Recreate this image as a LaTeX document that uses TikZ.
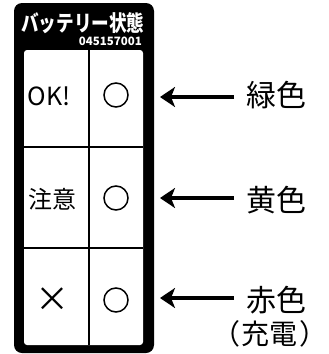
\documentclass[tikz,border=0pt]{standalone}
\usepackage{fontspec}
\setmainfont{Noto Sans CJK JP}
\usetikzlibrary{arrows.meta}
\begin{document}
\begin{tikzpicture}[x=1pt,y=-1pt,
  cell/.style={inner sep=0pt,font=\fontsize{24}{24}\selectfont},
  lamp/.style={circle,draw,line width=1.5pt,minimum size=24pt,inner sep=0pt},
  lbl/.style={inner sep=0pt,font=\fontsize{30}{30}\selectfont},
  arr/.style={line width=4pt,-{Stealth[length=15pt,width=20pt,inset=4pt]}},
  grid/.style={line width=2pt}]
\useasboundingbox (0,0) rectangle (329,354);
% frame
\fill[rounded corners=8pt] (14,3) rectangle (154,353);
\fill[white,rounded corners=3pt] (24,50) rectangle (143,345);
\coordinate (gt) at (89,50);
\coordinate (gb) at (89,345);
\coordinate (h1l) at (24,147);
\coordinate (h1r) at (143,147);
\coordinate (h2l) at (24,248);
\coordinate (h2r) at (143,248);
\draw[grid] (gt) -- (gb);
\draw[grid] (h1l) -- (h1r);
\draw[grid] (h2l) -- (h2r);
% header
\node[white,inner sep=0pt,xscale=0.8,font=\fontsize{22}{22}\selectfont\bfseries] (title) at (83,23) {バッテリー状態};
\node[white,inner sep=0pt,anchor=east,font=\fontsize{11.5}{11.5}\selectfont\bfseries] (code) at (142,41) {045157001};
% cells
\node[cell,font=\fontsize{25}{25}\selectfont] (ok) at (49,96) {OK!};
\node[cell] (chui) at (52,199) {注意};
\node[cell,font=\fontsize{34}{34}\selectfont] (batsu) at (52,300) {×};
\node[lamp] (c1) at (116,95) {};
\node[lamp] (c2) at (116,198) {};
\node[lamp] (c3) at (116,300) {};
% labels
\node[lbl] (g) at (276,95) {緑色};
\node[lbl] (y) at (276,200) {黄色};
\node[lbl] (r) at (276,300) {赤色};
\node[lbl,font=\fontsize{28}{28}\selectfont] (rc) at (270,334) {（\kern2pt 充電\kern2pt）};
% arrows
\coordinate (s1) at (234,97);
\coordinate (t1) at (160,97);
\coordinate (s2) at (234,198);
\coordinate (t2) at (160,198);
\coordinate (s3) at (234,298);
\coordinate (t3) at (160,298);
\draw[arr] (s1) -- (t1);
\draw[arr] (s2) -- (t2);
\draw[arr] (s3) -- (t3);
\end{tikzpicture}
\end{document}
